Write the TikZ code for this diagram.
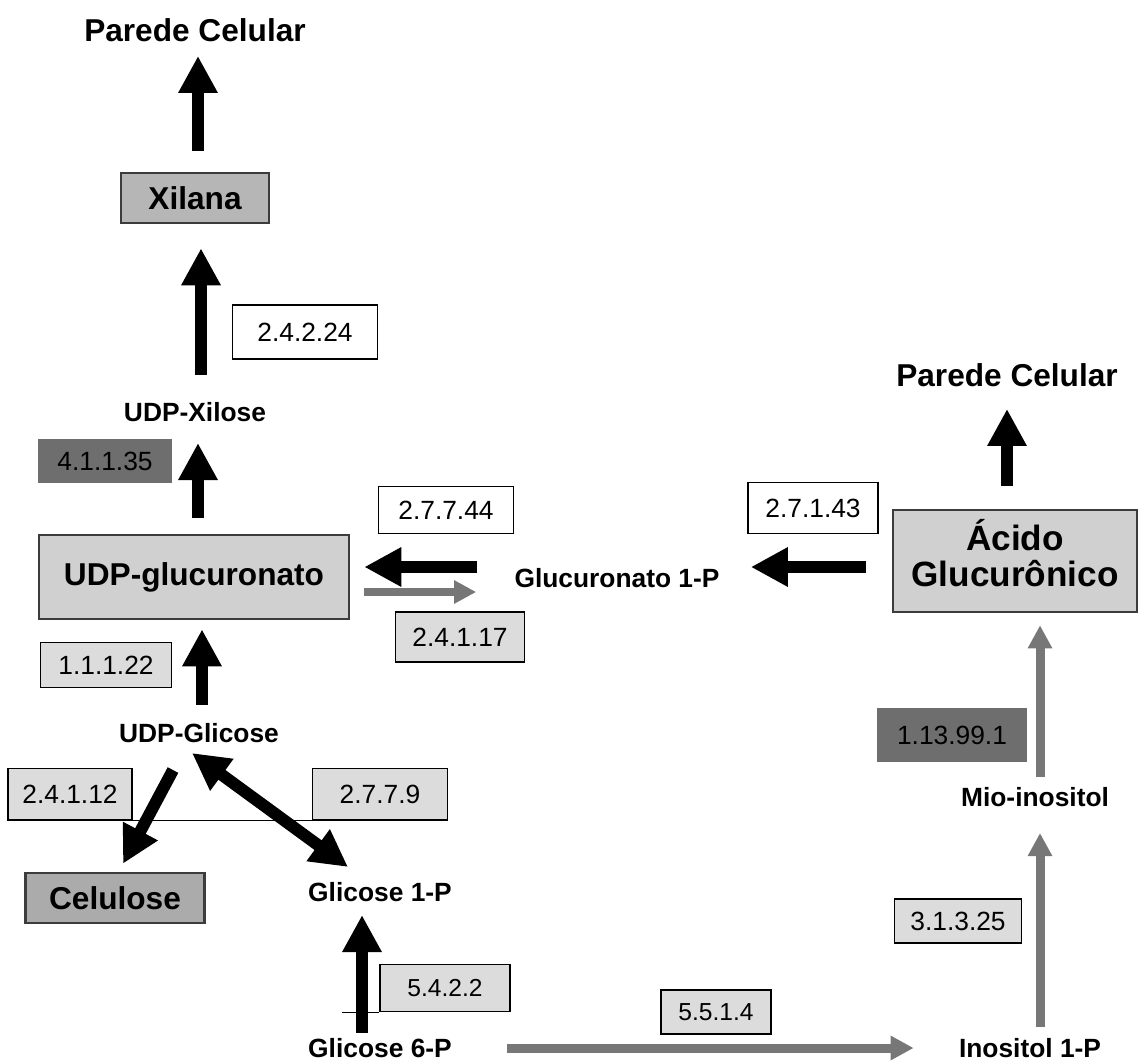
\documentclass[tikz,border=0pt]{standalone}
\usepackage{fontspec}
\setmainfont{Liberation Sans}
\usetikzlibrary{arrows.meta}
\definecolor{lgray}{HTML}{D0D0D0}
\definecolor{xgray}{HTML}{B6B6B6}
\definecolor{cgray}{HTML}{ABABAB}
\definecolor{dgray}{HTML}{6E6E6E}
\definecolor{egray}{HTML}{DCDCDC}
\definecolor{edge}{HTML}{3C3C3C}
\definecolor{arrgray}{HTML}{777777}

\begin{document}
\begin{tikzpicture}[x=0.02cm, y=-0.02cm,
  lbl/.style = {inner sep=0, font=\fontsize{15}{18}\selectfont\bfseries},
  title/.style = {inner sep=0, font=\fontsize{18}{22}\selectfont\bfseries},
  big/.style = {draw=edge, line width=1.5pt, inner sep=0, font=\fontsize{18}{22}\selectfont\bfseries},
  enz/.style = {draw, line width=1pt, fill=egray, inner sep=0, font=\fontsize{15}{18}\selectfont},
  fat/.style = {line width=0.24cm, -{Triangle[length=0.74cm,width=0.74cm]}},
  twoway/.style = {line width=0.24cm, {Triangle[length=0.74cm,width=0.74cm]}-{Triangle[length=0.74cm,width=0.74cm]}},
  thinarr/.style = {arrgray, line width=0.16cm, -{Triangle[length=0.44cm,width=0.44cm]}},
  grayarr/.style = {arrgray, line width=0.18cm, -{Triangle[length=0.46cm,width=0.46cm]}}]
\fill[white] (0,0) rectangle (1138,1061);
\useasboundingbox (0,0) rectangle (1138,1061);

\node[title] (paredeA) at (195,30) {Parede Celular};
\node[big, fill=xgray, minimum width=2.96cm, minimum height=1cm] (xilana) at (195,198) {Xilana};
\node[enz, fill=white, minimum width=2.9cm, minimum height=1.08cm] (e24224) at (305,332) {2.4.2.24};
\node[lbl] (udpxil) at (195,412) {UDP-Xilose};
\node[enz, fill=dgray, draw=dgray, minimum width=2.64cm, minimum height=0.84cm] (e41135) at (105,461) {4.1.1.35};
\node[big, fill=lgray, minimum width=6.2cm, minimum height=1.68cm] (udpgluc) at (194,577) {UDP-glucuronato};
\node[enz, fill=white, minimum width=2.7cm, minimum height=0.94cm] (e27744) at (446,510) {2.7.7.44};
\node[enz, minimum width=2.58cm, minimum height=1cm] (e24117) at (460,637) {2.4.1.17};
\node[lbl] (glucp) at (617,578) {Glucuronato 1-P};
\node[enz, fill=white, minimum width=2.6cm, minimum height=1.02cm] (e27143) at (813,508) {2.7.1.43};
\node[big, fill=lgray, minimum width=4.88cm, minimum height=2.04cm, align=center,
  font=\fontsize{20}{20.5}\selectfont\bfseries] (acido) at (1015,561) {Ácido\\Glucurônico\rule[-0.32cm]{0pt}{0pt}};
\node[title] (paredeB) at (1007,375) {Parede Celular};
\node[enz, fill=dgray, draw=dgray, minimum width=2.98cm, minimum height=1.06cm] (e113991) at (952,735) {1.13.99.1};
\node[lbl] (mio) at (1035,797) {Mio-inositol};
\node[enz, minimum width=2.54cm, minimum height=0.88cm] (e31325) at (958,921) {3.1.3.25};
\node[lbl] (ino) at (1030,1048) {Inositol 1-P};
\node[enz, minimum width=2.62cm, minimum height=0.9cm] (e11122) at (106,665) {1.1.1.22};
\node[lbl] (udpglc) at (199,733) {UDP-Glicose};
\node[enz, minimum width=2.48cm, minimum height=1.02cm] (e24112) at (70,794) {2.4.1.12};
\node[enz, minimum width=2.7cm, minimum height=1.02cm] (e2779) at (380,794) {2.7.7.9};
\node[big, fill=cgray, minimum width=3.58cm, minimum height=1cm] (celulose) at (115,898) {Celulose};
\node[lbl] (glc1) at (380,892) {Glicose 1-P};
\node[enz, minimum width=2.6cm, minimum height=0.94cm, font=\fontsize{14}{17}\selectfont] (e5422) at (445,988) {5.4.2.2};
\node[lbl] (glc6) at (380,1048) {Glicose 6-P};
\node[enz, minimum width=2.2cm, minimum height=0.88cm, font=\fontsize{14}{17}\selectfont] (e5514) at (716,1012) {5.5.1.4};

\draw[line width=0.8pt] (e24112.south west) -- (e2779.south east);
\draw[line width=0.8pt] ([shift={(-37,0)}]e5422.south west) -- (e5422.south west);

\draw[fat] ([shift={(3,-21)}]xilana.north) -- ([shift={(3,14)}]paredeA.south);
\draw[fat] ([shift={(6,-27)}]udpxil.north) -- ([shift={(6,24)}]xilana.south);
\draw[fat] ([shift={(4,-16)}]udpgluc.north) -- ([shift={(3,21)}]udpxil.south);
\draw[fat] ([shift={(3,-18)}]udpglc.north) -- ([shift={(8,9)}]udpgluc.south);
\draw[fat] ([shift={(-37,-11)}]glucp.west) -- ([shift={(14,-10)}]udpgluc.east);
\draw[thinarr] ([shift={(14,15)}]udpgluc.east) -- ([shift={(-38,14)}]glucp.west);
\draw[fat] ([shift={(-26,6)}]acido.west) -- ([shift={(31,-11)}]glucp.east);
\draw[fat] ([shift={(-8,-23)}]acido.north) -- ([shift={(0,22)}]paredeB.south);
\draw[grayarr] ([shift={(5,-10)}]mio.north) -- ([shift={(25,12)}]acido.south);
\draw[grayarr] ([shift={(10,-11)}]ino.north) -- ([shift={(5,26)}]mio.south);
\draw[grayarr] ([shift={(55,0)}]glc6.east) -- ([shift={(-45,0)}]ino.west);
\draw[fat] ([shift={(-18,-5)}]glc6.north) -- ([shift={(-18,13)}]glc1.south);
\draw[fat] ([shift={(-26,27)}]udpglc.south) -- ([shift={(8,-8)}]celulose.north);
\draw[twoway] ([shift={(-7,10)}]udpglc.south) -- ([shift={(-32,-15)}]glc1.north);
\end{tikzpicture}
\end{document}
